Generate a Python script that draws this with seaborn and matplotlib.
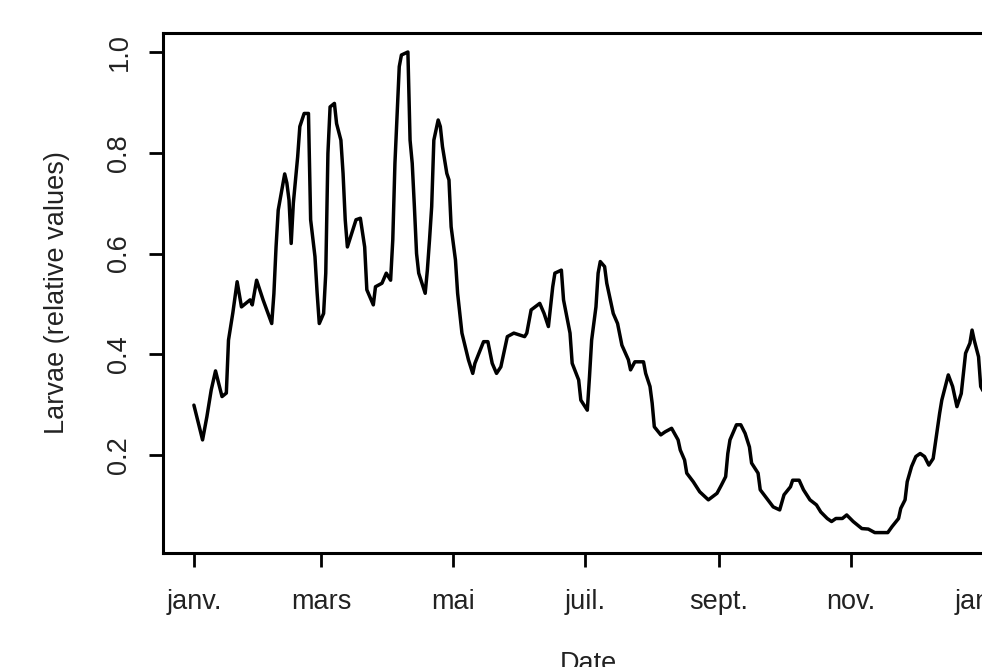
import pandas as pd
import matplotlib
matplotlib.use("Agg")
import matplotlib.pyplot as plt
import seaborn as sns

# day offset from 1 January and relative larvae value
day = [0, 4, 6, 8, 10, 13, 15, 16, 18, 20, 22, 26, 27, 29, 32, 36, 37, 38, 39, 42,
       43, 44, 45, 46, 48, 49, 51, 53, 54, 56, 57, 58, 60, 61, 62, 63, 65, 66, 68, 69,
       70, 71, 73, 75, 77, 79, 80, 83, 84, 87, 89, 91, 92, 93, 95, 96, 99, 100, 101, 102,
       103, 104, 107, 108, 109, 110, 111, 113, 114, 115, 117, 118, 119, 121, 122, 124, 127, 129, 130, 134,
       136, 138, 140, 142, 145, 148, 153, 154, 156, 160, 162, 164, 165, 166, 167, 170, 171, 174, 175, 178,
       179, 182, 183, 184, 186, 187, 188, 190, 191, 194, 196, 198, 201, 202, 204, 208, 209, 211, 212, 213,
       216, 218, 221, 224, 225, 227, 228, 231, 234, 238, 242, 244, 246, 247, 248, 251, 253, 255, 257, 258,
       261, 262, 265, 268, 271, 273, 276, 277, 280, 282, 285, 288, 290, 293, 295, 297, 300, 302, 305, 309,
       312, 315, 321, 323, 326, 327, 329, 330, 332, 334, 336, 338, 340, 342, 343, 345, 346, 349, 351, 353,
       355, 357, 359, 360, 361, 363, 364, 366]
larvae = [0.299, 0.230, 0.276, 0.329, 0.367, 0.316, 0.323, 0.428, 0.482, 0.544, 0.494, 0.508, 0.498, 0.547, 0.508, 0.461, 0.520, 0.613, 0.686, 0.758,
          0.740, 0.706, 0.620, 0.700, 0.792, 0.852, 0.878, 0.878, 0.667, 0.594, 0.522, 0.461, 0.481, 0.561, 0.799, 0.891, 0.898, 0.858, 0.825, 0.759,
          0.667, 0.613, 0.640, 0.667, 0.670, 0.613, 0.528, 0.498, 0.534, 0.541, 0.561, 0.547, 0.627, 0.779, 0.971, 0.994, 1.000, 0.825, 0.779, 0.693,
          0.600, 0.561, 0.521, 0.567, 0.627, 0.693, 0.825, 0.865, 0.852, 0.812, 0.759, 0.746, 0.653, 0.587, 0.521, 0.442, 0.389, 0.362, 0.382, 0.425,
          0.425, 0.382, 0.362, 0.375, 0.435, 0.442, 0.435, 0.442, 0.488, 0.501, 0.481, 0.455, 0.494, 0.534, 0.561, 0.567, 0.508, 0.442, 0.382, 0.349,
          0.309, 0.289, 0.355, 0.428, 0.494, 0.561, 0.584, 0.574, 0.541, 0.481, 0.461, 0.418, 0.389, 0.369, 0.385, 0.385, 0.362, 0.336, 0.303, 0.256,
          0.240, 0.246, 0.253, 0.230, 0.210, 0.190, 0.164, 0.147, 0.127, 0.111, 0.124, 0.140, 0.157, 0.203, 0.230, 0.260, 0.260, 0.243, 0.216, 0.184,
          0.164, 0.131, 0.114, 0.097, 0.091, 0.121, 0.137, 0.150, 0.150, 0.131, 0.111, 0.101, 0.087, 0.074, 0.068, 0.074, 0.074, 0.081, 0.068, 0.054,
          0.053, 0.046, 0.046, 0.058, 0.074, 0.094, 0.111, 0.147, 0.177, 0.197, 0.203, 0.197, 0.180, 0.193, 0.223, 0.283, 0.309, 0.359, 0.336, 0.296,
          0.322, 0.402, 0.422, 0.448, 0.428, 0.395, 0.336, 0.320]

tick_dates = ["2015-01-01", "2015-03-01", "2015-05-01", "2015-07-01",
              "2015-09-01", "2015-11-01", "2016-01-01"]
tick_labels = ["janv.", "mars", "mai", "juil.", "sept.", "nov.", "janv."]
y_ticks = [0.2, 0.4, 0.6, 0.8, 1.0]

start = pd.Timestamp("2015-01-01")
df = pd.DataFrame({"Date": start + pd.to_timedelta(day, unit="D"), "Larvae": larvae})

sns.set_style("white")
plt.rcParams["font.family"] = ["Liberation Sans", "DejaVu Sans"]

fig = plt.figure(figsize=(9.82, 6.67), dpi=100)
# the original picture is cropped: the plot box runs past the right edge
ax = fig.add_axes([163 / 982, 114 / 667, 851 / 982, 520 / 667])

sns.lineplot(data=df, x="Date", y="Larvae", color="black", linewidth=2.5, ax=ax)

ax.set_xlim(start - pd.Timedelta(days=14.3), start + pd.Timedelta(days=379.4))
ax.set_ylim(0.0055, 1.0377)

fs = 19.5
ax.set_xticks(pd.to_datetime(tick_dates))
ax.set_xticklabels(tick_labels, fontsize=fs)
ax.set_yticks(y_ticks)
ax.set_yticklabels([f"{v:.1f}" for v in y_ticks], rotation=90, va="center", fontsize=fs)

ax.tick_params(axis="both", direction="out", length=10, width=2, color="black",
               labelcolor="#222222", bottom=True, left=True)
ax.tick_params(axis="x", pad=16)
ax.tick_params(axis="y", pad=12)

for s in ax.spines.values():
    s.set_color("black")
    s.set_linewidth(2.2)

ax.set_xlabel("Date", fontsize=fs, color="#222222", labelpad=26)
ax.set_ylabel("Larvae (relative values)", fontsize=fs, color="#222222", labelpad=26)

fig.savefig("out.png", dpi=100)
